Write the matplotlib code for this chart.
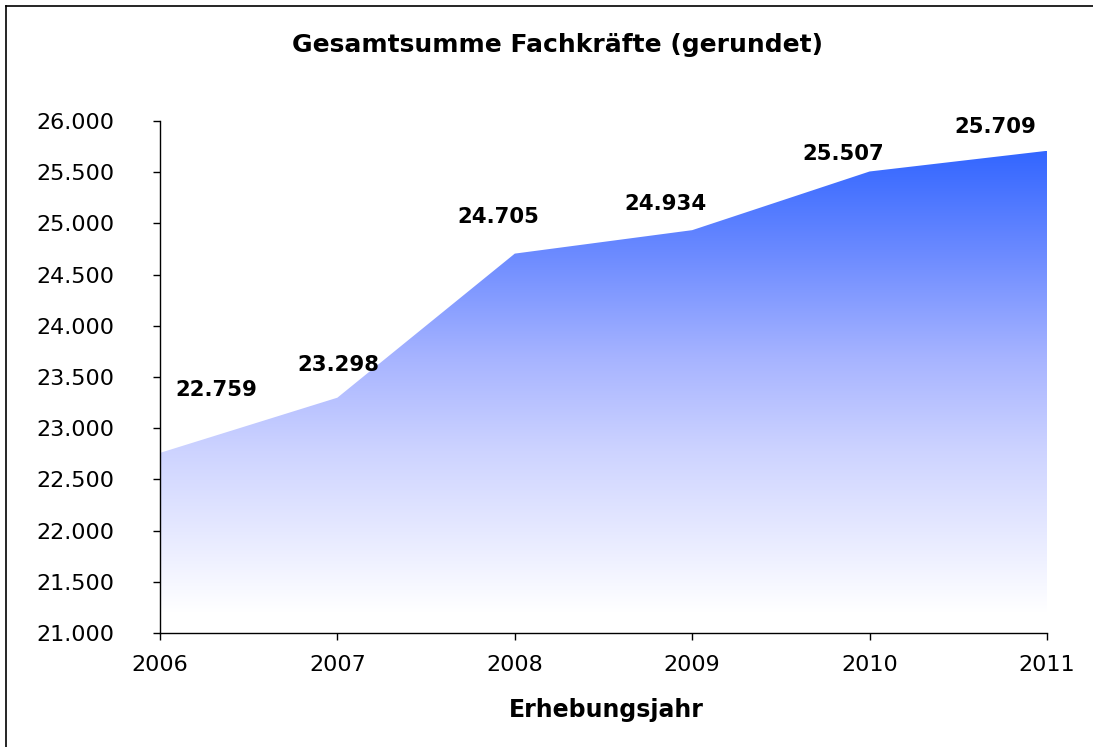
import numpy as np
import matplotlib
matplotlib.use('Agg')
import matplotlib.pyplot as plt
from matplotlib.colors import LinearSegmentedColormap
from matplotlib.patches import Polygon
from matplotlib.ticker import FuncFormatter

plt.rcParams['font.family'] = ['DejaVu Sans']

years = [2006, 2007, 2008, 2009, 2010, 2011]
fachkraefte = [22759, 23298, 24705, 24934, 25507, 25709]
title = 'Gesamtsumme Fachkräfte (gerundet)'
xlabel = 'Erhebungsjahr'

# label offsets in pixels (dx, dy), as placed in the original
offsets = [(56, 63), (1, 33), (-16, 37), (-27, 26), (-26, 17), (-52, 24)]

fig = plt.figure(figsize=(10.93, 7.47), dpi=100)
ax = fig.add_axes([160/1093, 1-633/747, (1047-160)/1093, (633-121)/747])

x = np.array(years, dtype=float)
y = np.array(fachkraefte, dtype=float)
ymin, ymax = 21000, 26000
fill_bottom = 21200

# vertical gradient, white at the bottom to blue at the top
cmap = LinearSegmentedColormap.from_list('grad', [
    (0.0, '#ffffff'), (0.35, '#cdd3ff'), (0.55, '#a7b4ff'),
    (0.77, '#6e8cff'), (1.0, '#3366ff')])
grad = np.linspace(0, 1, 256).reshape(-1, 1)
img = ax.imshow(grad, cmap=cmap, aspect='auto', origin='lower',
                extent=[x[0], x[-1], fill_bottom, y.max()], zorder=1)
verts = [(x[0], fill_bottom)] + list(zip(x, y)) + [(x[-1], fill_bottom)]
poly = Polygon(verts, closed=True, facecolor='none', edgecolor='none')
ax.add_patch(poly)
img.set_clip_path(poly)

ax.set_xlim(x[0], x[-1])
ax.set_ylim(ymin, ymax)
ax.set_xticks(years)
ax.set_yticks(np.arange(21000, 26001, 500))
ax.yaxis.set_major_formatter(FuncFormatter(lambda v, p: f'{int(v):,}'.replace(',', '.')))

for s in ['top', 'right']:
    ax.spines[s].set_visible(False)
for s in ['left', 'bottom']:
    ax.spines[s].set_linewidth(1.0)
    ax.spines[s].set_zorder(3)
ax.tick_params(axis='y', direction='out', length=5, width=1, labelsize=16, pad=28)
ax.tick_params(axis='x', direction='out', length=5, width=1, labelsize=16, pad=11)

for xi, yi, (dx, dy) in zip(x, y, offsets):
    ax.annotate(f'{int(yi):,}'.replace(',', '.'), (xi, yi),
                xytext=(dx*0.72, dy*0.72), textcoords='offset points',
                ha='center', va='center', fontsize=15.3, fontweight='bold',
                annotation_clip=False, zorder=4)

fig.text(558/1093, 1-45/747, title, ha='center', va='center', fontsize=18,
         fontweight='bold')
fig.text(606/1093, 1-710/747, xlabel, ha='center', va='center', fontsize=17,
         fontweight='bold')

# frame lines at top and left like the original export
fig.add_artist(plt.Line2D([6/1093, 1], [1-6/747, 1-6/747], color='black', lw=1.2))
fig.add_artist(plt.Line2D([6/1093, 6/1093], [0, 1-6/747], color='black', lw=1.2))

fig.savefig('out.png', dpi=100)
